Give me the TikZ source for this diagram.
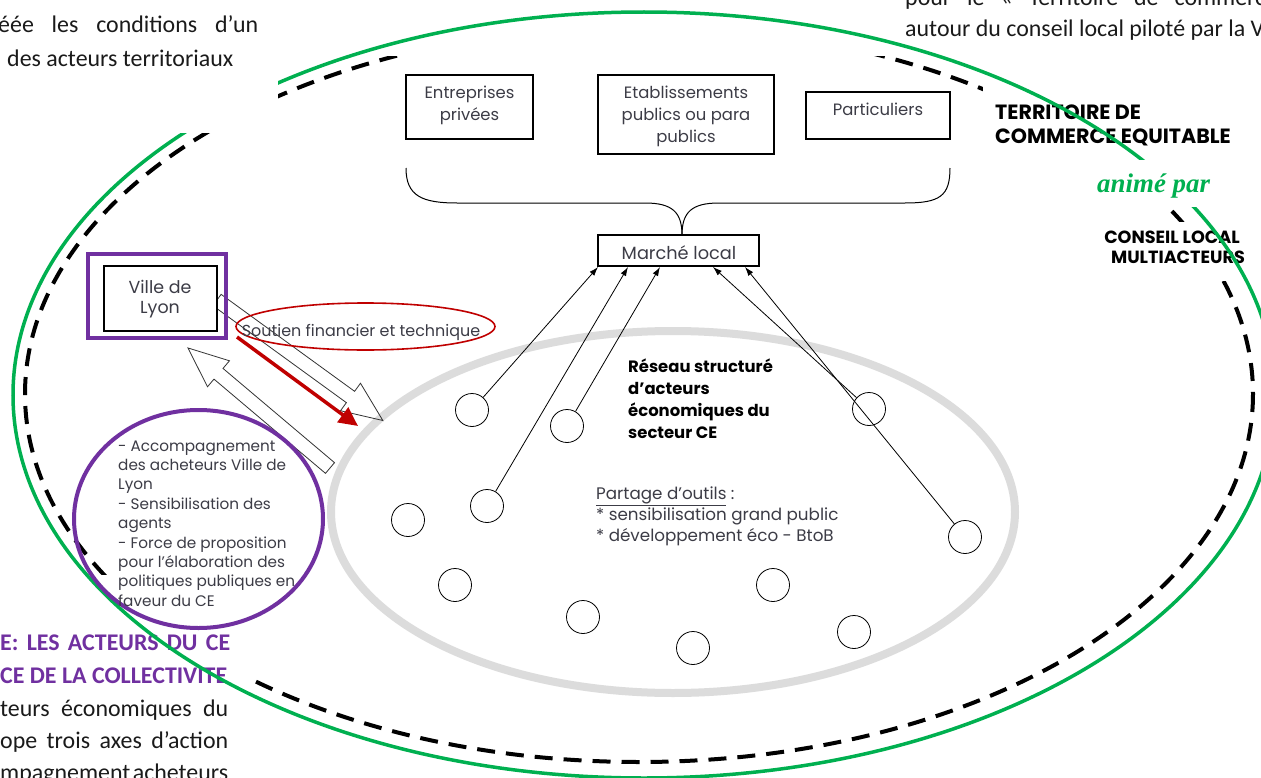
\documentclass[tikz,border=0pt]{standalone}
\usepackage{fontspec}
\setmainfont{Carlito}
\newfontfamily\gothic{Poppins}
\newfontfamily\serifbi{Liberation Serif}
\usetikzlibrary{calc,arrows.meta,shapes.geometric}
\definecolor{vgreen}{HTML}{00B050}
\definecolor{vpurple}{HTML}{7030A0}
\definecolor{vred}{HTML}{C00000}
\definecolor{lgray}{HTML}{DCDCDC}
\definecolor{tgray}{HTML}{3C3C46}
\definecolor{docblack}{HTML}{1A1A1A}
\tikzset{
 doc/.style={font=\fontsize{24}{29}\selectfont, text=docblack, inner sep=0, anchor=base west},
 dochead/.style={doc, font=\fontsize{24}{29}\selectfont\bfseries, text=vpurple},
 lbl/.style={font=\gothic\fontsize{16.5}{20}\selectfont, text=tgray, inner sep=0, anchor=base},
 lbll/.style={lbl, anchor=base west, font=\gothic\fontsize{16.8}{20}\selectfont},
 smalllbl/.style={lbll, font=\gothic\fontsize{15.3}{18}\selectfont},
 boldlbl/.style={font=\gothic\bfseries\fontsize{16.5}{20}\selectfont, text=black, inner sep=0, anchor=base west},
 titlelbl/.style={boldlbl, font=\gothic\bfseries\fontsize{20.7}{24}\selectfont},
 conslbl/.style={boldlbl, anchor=base, font=\gothic\bfseries\fontsize{17.7}{20}\selectfont},
 box/.style={draw, line width=1.1bp, inner sep=0, fill=white},
 actor/.style={circle, draw, line width=0.8bp, minimum size=33bp, inner sep=0},
 conn/.style={line width=0.8bp, -{Latex[length=9bp,width=6bp]}},
 blockline/.style={draw=black!80, line width=0.8bp},
 dashring/.style={line width=4bp, dash pattern=on 18bp off 11bp},
}
\begin{document}
\begin{tikzpicture}[x=1bp,y=-1bp]
\useasboundingbox (0,0) rectangle (1261,778);
\begin{scope}
\clip (0,0) rectangle (1261,778);
\fill[white] (0,0) rectangle (1261,778);

% dashed territory ellipse (diagram picture starts at y=57)
\begin{scope}
\clip (0,57) rectangle (1261,778);
\draw[dashring] (639,394) ellipse [x radius=614, y radius=368];
\end{scope}

% grey network ellipse
\draw[lgray, line width=8bp] (673,512) ellipse [x radius=342, y radius=181];

% top boxes
\node[box, minimum width=127bp, minimum height=64bp] (ent) at (469.5,107) {};
\node[lbl] (ent1) at (469.5,99) {Entreprises};
\node[lbl] (ent2) at (469.5,121) {privées};
\node[box, minimum width=176bp, minimum height=79bp] (eta) at (686,114.5) {};
\node[lbl] (eta1) at (686,99) {Etablissements};
\node[lbl] (eta2) at (686,120.5) {publics ou para};
\node[lbl] (eta3) at (686,142) {publics};
\node[box, minimum width=144bp, minimum height=47bp] (par) at (878,115.5) {};
\node[lbl] (par1) at (878,116) {Particuliers};
\node[box, minimum width=161bp, minimum height=31bp] (marche) at (678.5,250.5) {};
\node[lbl, font=\gothic\fontsize{17.8}{20}\selectfont] (marche1) at (679,259.5) {Marché local};

% brace
\coordinate (bl) at (406,168);
\coordinate (br) at (950,168);
\coordinate (btip) at (682,235);
\draw[line width=1bp] (bl) .. controls (406,196) and (422,203) .. (457,203) -- (645,203) .. controls (672,203) and (682,212) .. (btip);
\draw[line width=1bp] (btip) .. controls (682,212) and (692,203) .. (719,203) -- (905,203) .. controls (940,203) and (950,196) .. (br);

% actors
\node[actor] (c1) at (472,410) {};
\node[actor] (c2) at (567,426) {};
\node[actor] (c3) at (487,506) {};
\node[actor] (c4) at (408,520) {};
\node[actor] (c5) at (455,585) {};
\node[actor] (c6) at (583,617) {};
\node[actor] (c7) at (693,648) {};
\node[actor] (c8) at (773,585) {};
\node[actor] (c9) at (854,632) {};
\node[actor] (c10) at (869,409) {};
\node[actor] (c11) at (965,537) {};

\coordinate (m1) at (598,267);
\coordinate (m2) at (628,267);
\coordinate (m3) at (660,267);
\coordinate (m4) at (713,267);
\coordinate (m5) at (745,267);
\draw[conn] (c1) -- (m1);
\draw[conn] (c3) -- (m2);
\draw[conn] (c2) -- (m3);
\draw[conn] (c10) -- (m4);
\draw[conn] (c11) -- (m5);

% network texts
\foreach \t [count=\i] in {Réseau structuré, d’acteurs, économiques du, secteur CE}
  \node[boldlbl] (res\i) at (628,{372+(\i-1)*22.3}) {\t};
\node[lbll] (outil1) at (596,499) {\underline{Partage d’outils} :};
\node[lbll] (outil2) at (596,520) {* sensibilisation grand public};
\node[lbll] (outil3) at (596,541) {* développement éco - BtoB};

% block arrows
\coordinate (aAt) at (217,300);
\coordinate (aBt) at (330,468);
\begin{scope}[shift={(aAt)}, rotate=-36]
 \draw[blockline] (0,-7) -- (165,-7) -- (165,-17) -- (205,0) -- (165,17) -- (165,7) -- (0,7) -- cycle;
\end{scope}
\begin{scope}[shift={(aBt)}, rotate=139.8]
 \draw[blockline] (0,-7) -- (146,-7) -- (146,-17) -- (186,0) -- (146,17) -- (146,7) -- (0,7) -- cycle;
\end{scope}

% Ville de Lyon
\node[box, line width=1.3bp, minimum width=113bp, minimum height=65bp] (vl) at (160.5,298.5) {};
\node[lbl, font=\gothic\fontsize{17.5}{20}\selectfont] (vl1) at (160,293) {Ville de};
\node[lbl, font=\gothic\fontsize{17.5}{20}\selectfont] (vl2) at (160,313) {Lyon};

% title texts with white backgrounds
\fill[white] (983,82) rectangle (1245,168);
\node[titlelbl] (terr1) at (995,120) {TERRITOIRE DE};
\node[titlelbl] (terr2) at (995,143) {COMMERCE EQUITABLE};
\fill[white] (1098,222) rectangle (1246,281);
\node[conslbl] (cons1) at (1172,243) {CONSEIL LOCAL};
\node[conslbl] (cons2) at (1178,263) {MULTIACTEURS};

% bottom-left document text
\fill[white] (0,575) rectangle (248,778);
\node[dochead] (bl1) at (0,650) {\hbox to 230bp{E:\hfill LES\hfill ACTEURS\hfill DU\hfill CE}};
\node[dochead] (bl2) at (0,683) {CE DE LA COLLECTIVITE};
\node[doc] (bl3) at (0,716) {\hbox to 228bp{teurs\hfill économiques\hfill du}};
\node[doc] (bl4) at (0,748) {\hbox to 228bp{ope\hfill trois\hfill axes\hfill d’action}};
\node[doc] (bl5) at (0,780) {\hbox to 228bp{mpagnement\hfill acheteurs}};

% green ellipse
\draw[vgreen, line width=3.5bp] (644,395) ellipse [x radius=631, y radius=383];

% top document text
\fill[white] (0,0) rectangle (278,133);
\node[doc] (tl1) at (-2,33) {\hbox to 260bp{éée\hfill les\hfill conditions\hfill d’un}};
\node[doc] (tl2) at (7,67) {des acteurs territoriaux};
\node[doc] (tr1) at (905,6) {\hbox to 372bp{pour\hfill le\hfill «\hfill Territoire\hfill de\hfill commerce}};
\node[doc] (tr2) at (905,37) {autour du conseil local piloté par la V};

% animé par
\node[fill=white, inner sep=0, minimum width=128bp, minimum height=47bp] (animbg) at (1154,183.5) {};
\node[inner sep=0, anchor=base west, text=vgreen, font=\serifbi\bfseries\itshape\fontsize{27}{30}\selectfont] (anim) at (1097,192) {animé par};

% purple elements
\node[draw=vpurple, line width=4bp, minimum width=138bp, minimum height=84bp, inner sep=0] (vlframe) at (157,296) {};
\node[ellipse, draw=vpurple, line width=4bp, minimum width=249bp, minimum height=218bp, inner sep=0] (axes) at (198.5,519) {};
\foreach \t [count=\i] in {- Accompagnement, des acheteurs Ville de, Lyon, - Sensibilisation des, agents, - Force de proposition, pour l’élaboration des, politiques publiques en, faveur du CE}
  \node[smalllbl] (ax\i) at (118,{451+(\i-1)*19.4}) {\t};

% red elements
\node[ellipse, draw=vred, line width=1.6bp, minimum width=259bp, minimum height=47bp, inner sep=0] (soutien) at (365.5,326.5) {};
\node[lbl, font=\gothic\fontsize{16}{20}\selectfont] (soutientxt) at (361,336) {Soutien financier et technique};
\coordinate (rs) at (237,337);
\coordinate (re) at (358,426);
\draw[vred, line width=3.5bp, -{Triangle[length=19bp,width=18bp]}] (rs) -- (re);
\end{scope}
\end{tikzpicture}
\end{document}
